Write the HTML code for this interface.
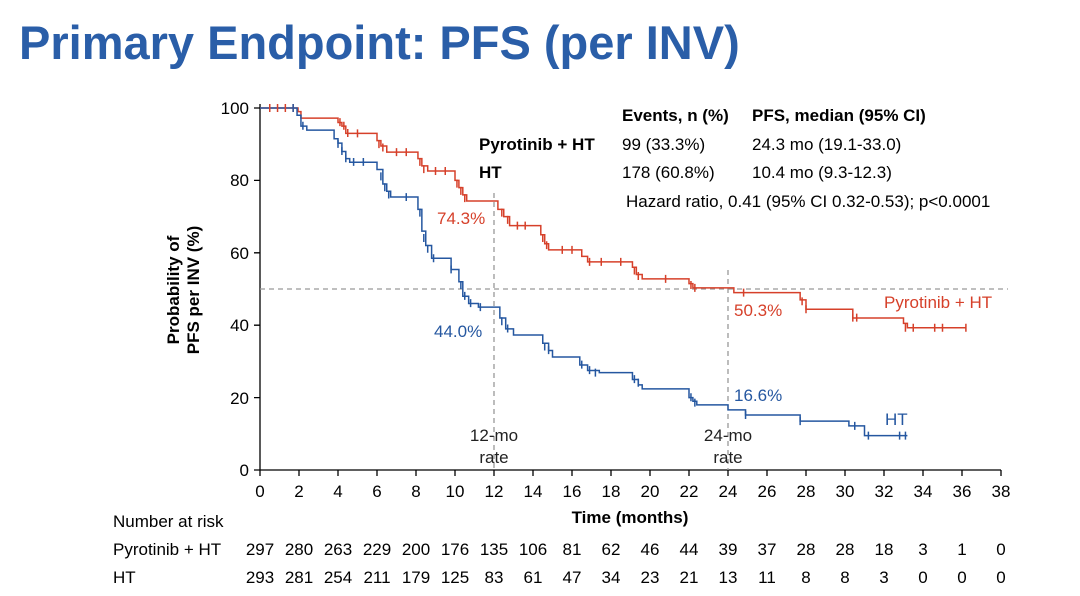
<!DOCTYPE html>
<html><head><meta charset="utf-8"><style>
body{margin:0;background:#fff;width:1080px;height:591px;overflow:hidden;font-family:"Liberation Sans",Arial,sans-serif}
</style></head><body>
<svg width="1080" height="591" viewBox="0 0 1080 591" xmlns="http://www.w3.org/2000/svg" font-family="Liberation Sans, Arial, sans-serif">
<text x="19" y="59" font-size="47" font-weight="bold" fill="#2a5ea8">Primary Endpoint: PFS (per INV)</text>
<g stroke="#000" stroke-width="1.3" fill="none">
<path d="M260,104 V470 H1001"/>
<path d="M254,108H260M254,180.4H260M254,252.8H260M254,325.2H260M254,397.6H260M254,470H260"/>
<path d="M260,470v6M299,470v6M338,470v6M377,470v6M416,470v6M455,470v6M494,470v6M533,470v6M572,470v6M611,470v6M650,470v6M689,470v6M728,470v6M767,470v6M806,470v6M845,470v6M884,470v6M923,470v6M962,470v6M1001,470v6"/>
</g>
<g font-size="17" text-anchor="end" fill="#000">
<text x="249" y="114">100</text><text x="249" y="186">80</text><text x="249" y="259">60</text><text x="249" y="331">40</text><text x="249" y="404">20</text><text x="249" y="476">0</text>
</g>
<g font-size="17" text-anchor="middle" fill="#000">
<text x="260" y="497">0</text><text x="299" y="497">2</text><text x="338" y="497">4</text><text x="377" y="497">6</text><text x="416" y="497">8</text><text x="455" y="497">10</text><text x="494" y="497">12</text><text x="533" y="497">14</text><text x="572" y="497">16</text><text x="611" y="497">18</text><text x="650" y="497">20</text><text x="689" y="497">22</text><text x="728" y="497">24</text><text x="767" y="497">26</text><text x="806" y="497">28</text><text x="845" y="497">30</text><text x="884" y="497">32</text><text x="923" y="497">34</text><text x="962" y="497">36</text><text x="1001" y="497">38</text>
<text x="630" y="523" font-weight="bold">Time (months)</text>
</g>
<g font-size="17" font-weight="bold" text-anchor="middle" transform="translate(182,290) rotate(-90)">
<text x="0" y="-3">Probability of</text><text x="0" y="17">PFS per INV (%)</text>
</g>
<g stroke="#999" stroke-width="1.3" stroke-dasharray="5,4" fill="none">
<path d="M260,289H1008"/><path d="M494,193V470"/><path d="M728,270V470"/>
</g>
<g font-size="17" text-anchor="middle" fill="#222">
<text x="494" y="441">12-mo</text><text x="494" y="463">rate</text>
<text x="728" y="441">24-mo</text><text x="728" y="463">rate</text>
</g>
<g transform="translate(260,470) scale(19.5,-3.62)" fill="none" stroke-width="1.5">
<path vector-effect="non-scaling-stroke" stroke="#d6402a" d="M0,100H1.95V99H2.1V97.2H4V96H4.2V95H4.4V93H6V91H6.2V89.5H6.5V87.8H8.1V86H8.3V84H8.6V82.6H10V80H10.2V78H10.4V76H10.6V74.3H12.2V72H12.5V70H12.8V67.5H14.4V65H14.6V62.5H14.8V60.8H16.5V59H16.8V57.5H19.1V56H19.3V54H19.6V52.8H22V51.5H22.2V50.3H24.3V49H27.7V47H28V44.4H30.4V42H33V40.5H33.2V39.3H36.2"/>
<path vector-effect="non-scaling-stroke" stroke="#2557a0" d="M0,100H1.9V98H2.1V95H2.4V93.9H3.8V91.5H4V90.3H4.2V88H4.4V86H4.6V85H6V83H6.3V79H6.5V77H6.7V75.4H8.1V72H8.3V66H8.5V62H8.8V58.5H9.8V55.4H10.2V52H10.4V48H10.7V46H11.2V45H12.3V42H12.6V39H13V37.3H14.5V35H14.8V33H15V31.2H16.4V29H16.8V27.5H17.4V26.9H19.1V25H19.4V23.5H19.6V22.4H22V20H22.2V19H22.4V18H24V16.6H24.9V15.2H27.7V13.5H30.2V12.2H31V9.5H33.2"/>
<path vector-effect="non-scaling-stroke" stroke="#d6402a" d="M0.5,98.9v2.2M0.9,98.9v2.2M1.3,98.9v2.2M1.7,98.9v2.2M4.1,95v2.2M4.3,94v2.2M4.5,92v2.2M5,91.9v2.2M6.1,88.9v2.2M6.3,88v2.2M7,86.7v2.2M7.5,86.7v2.2M8.2,84v2.2M8.4,82v2.2M9,81.5v2.2M9.5,81.5v2.2M10.1,78v2.2M10.3,76v2.2M10.5,74v2.2M12.4,70v2.2M12.7,68v2.2M13.2,66.4v2.2M13.6,66.4v2.2M14.5,63v2.2M14.7,61v2.2M15.5,59.7v2.2M16,59.7v2.2M16.9,56.4v2.2M17.5,56.4v2.2M18.5,56.4v2.2M19.2,54v2.2M19.4,52.5v2.2M20.8,51.7v2.2M22.1,50v2.2M22.3,49.2v2.2M24.8,47.9v2.2M27.8,45.5v2.2M28,43.3v2.2M30.4,41v2.2M30.6,41v2.2M33.1,38.2v2.2M33.5,38.2v2.2M34.6,38.2v2.2M35,38.2v2.2M36.2,38.2v2.2"/>
<path vector-effect="non-scaling-stroke" stroke="#2557a0" d="M1.7,98.9v2.2M2.2,94v2.2M4,89v2.2M4.2,87v2.2M4.4,85v2.2M4.8,84v2.2M5.3,84v2.2M6.2,80v2.2M6.4,77v2.2M6.6,75v2.2M7.5,74.3v2.2M8.2,70v2.2M8.4,63v2.2M8.6,60v2.2M8.9,57.4v2.2M9.8,54.3v2.2M10.3,50v2.2M10.5,47v2.2M10.8,45v2.2M11.3,43.9v2.2M12.4,40v2.2M12.7,38v2.2M14.6,33v2.2M14.8,32v2.2M16.5,28v2.2M16.9,26.5v2.2M17.2,25.8v2.2M19.2,24v2.2M19.4,23v2.2M22.1,19v2.2M22.3,17.5v2.2M24.9,14.1v2.2M27.7,12.4v2.2M30.5,11.1v2.2M31.2,8.4v2.2M32.8,8.4v2.2M33.1,8.4v2.2"/>
</g>
<g font-size="17">
<text x="437" y="224" fill="#d6402a">74.3%</text>
<text x="434" y="337" fill="#2557a0">44.0%</text>
<text x="734" y="316" fill="#d6402a">50.3%</text>
<text x="734" y="401" fill="#2557a0">16.6%</text>
<text x="884" y="308" fill="#d6402a">Pyrotinib + HT</text>
<text x="885" y="425" fill="#2557a0">HT</text>
</g>
<g font-size="17" fill="#000">
<text x="622" y="121" font-weight="bold">Events, n (%)</text>
<text x="752" y="121" font-weight="bold">PFS, median (95% CI)</text>
<text x="479" y="150" font-weight="bold">Pyrotinib + HT</text>
<text x="622" y="150">99 (33.3%)</text>
<text x="752" y="150">24.3 mo (19.1-33.0)</text>
<text x="479" y="178" font-weight="bold">HT</text>
<text x="622" y="178">178 (60.8%)</text>
<text x="752" y="178">10.4 mo (9.3-12.3)</text>
<text x="626" y="207">Hazard ratio, 0.41 (95% CI 0.32-0.53); p&lt;0.0001</text>
</g>
<g font-size="17" fill="#000">
<text x="113" y="527">Number at risk</text>
<text x="113" y="555">Pyrotinib + HT</text>
<text x="113" y="583">HT</text>
</g>
<g font-size="17" fill="#000" text-anchor="middle">
<text y="555"><tspan x="260">297</tspan><tspan x="299">280</tspan><tspan x="338">263</tspan><tspan x="377">229</tspan><tspan x="416">200</tspan><tspan x="455">176</tspan><tspan x="494">135</tspan><tspan x="533">106</tspan><tspan x="572">81</tspan><tspan x="611">62</tspan><tspan x="650">46</tspan><tspan x="689">44</tspan><tspan x="728">39</tspan><tspan x="767">37</tspan><tspan x="806">28</tspan><tspan x="845">28</tspan><tspan x="884">18</tspan><tspan x="923">3</tspan><tspan x="962">1</tspan><tspan x="1001">0</tspan></text>
<text y="583"><tspan x="260">293</tspan><tspan x="299">281</tspan><tspan x="338">254</tspan><tspan x="377">211</tspan><tspan x="416">179</tspan><tspan x="455">125</tspan><tspan x="494">83</tspan><tspan x="533">61</tspan><tspan x="572">47</tspan><tspan x="611">34</tspan><tspan x="650">23</tspan><tspan x="689">21</tspan><tspan x="728">13</tspan><tspan x="767">11</tspan><tspan x="806">8</tspan><tspan x="845">8</tspan><tspan x="884">3</tspan><tspan x="923">0</tspan><tspan x="962">0</tspan><tspan x="1001">0</tspan></text>
</g>
</svg>
</body></html>
